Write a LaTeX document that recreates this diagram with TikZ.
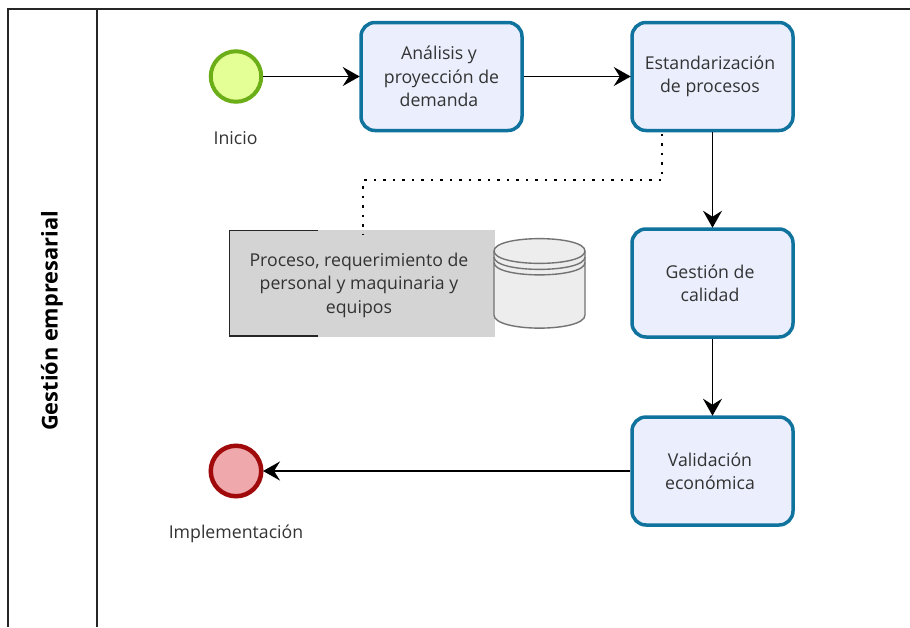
\documentclass[tikz,border=0pt]{standalone}
\usepackage{fontspec}
\setmainfont{Open Sans}
\usetikzlibrary{arrows.meta}
\definecolor{taskline}{HTML}{10739E}
\definecolor{taskfill}{HTML}{EAEEFD}
\definecolor{txt}{HTML}{333333}
\newcommand{\boxline}[1]{#1\hspace*{5pt}}
\tikzset{
  x=1pt,y=-1pt,
  task/.style={draw=taskline,fill=taskfill,line width=3.5pt,rounded corners=14pt,minimum width=161pt,minimum height=108pt,inner sep=0pt,align=center,text=txt,font=\fontsize{17.7}{23.2}\selectfont},
  evlabel/.style={text=txt,font=\fontsize{17.7}{23.2}\selectfont,inner sep=0pt},
  flow/.style={line width=1.9pt,-{Stealth[length=17pt,width=19pt,inset=6pt]},shorten >=-0.5pt},
  assoc/.style={line width=1.8pt,dash pattern=on 2.5pt off 7pt},
  storeline/.style={line width=1.4pt,draw=black!55}
}
\begin{document}
\begin{tikzpicture}
\useasboundingbox (0,0) rectangle (910,627);
\fill[white] (0,0) rectangle (910,627);
% lane
\draw[line width=2pt,color=black!85] (910,8.5) -- (7.5,8.5) -- (7.5,627);
\draw[line width=2pt,color=black!85] (97,8.5) -- (97,627);
\node[rotate=90,font=\fontsize{21.8}{26}\selectfont\bfseries,inner sep=0pt] (lane) at (52,321) {Gestión empresarial};
% annotation
\fill[black!17] (229,230) rectangle (495,336.5);
\node[inner sep=0pt,minimum width=266pt,minimum height=106pt,align=center,text=txt,font=\fontsize{17.7}{23.2}\selectfont] (note) at (359,285.3) {Proceso, requerimiento de\\personal y maquinaria y\\equipos};
\draw[line width=1.8pt,black!85] (318,230.5) -- (229.5,230.5) -- (229.5,336) -- (318,336);
% data store
\draw[storeline,fill=black!7] (494,251) .. controls (494,234.5) and (585,234.5) .. (585,251) -- (585,315) .. controls (585,332.5) and (494,332.5) .. (494,315) -- cycle;
\draw[storeline] (494,251) .. controls (494,267.5) and (585,267.5) .. (585,251);
\draw[storeline] (494,257) .. controls (494,273.5) and (585,273.5) .. (585,257);
\draw[storeline] (494,262.5) .. controls (494,279) and (585,279) .. (585,262.5);
% events
\node[circle,draw={rgb,255:red,108;green,174;blue,24},fill={rgb,255:red,228;green,255;blue,150},line width=4pt,inner sep=0pt,minimum size=50.5pt] (start) at (236,76.5) {};
\node[circle,draw={rgb,255:red,160;green,10;blue,10},fill={rgb,255:red,239;green,169;blue,173},line width=4.5pt,inner sep=0pt,minimum size=50.5pt] (end) at (236,471) {};
\node[evlabel] (startlabel) at (235.5,138) {Inicio};
\node[evlabel] (endlabel) at (236,534) {Implementación};
% tasks
\node[task] (analisis) at (441.5,76.5) {\boxline{Análisis y}\\\boxline{proyección de}\\\boxline{demanda}};
\node[task] (estandar) at (712.5,76.5) {\boxline{Estandarización}\\\boxline{de procesos}};
\node[task] (calidad) at (712.5,283) {\boxline{Gestión de}\\\boxline{calidad}};
\node[task] (validacion) at (712.5,471) {\boxline{Validación}\\\boxline{económica}};
% flows
\draw[flow] (start) -- (analisis);
\draw[flow] (analisis) -- (estandar);
\draw[flow] (estandar) -- (calidad);
\draw[flow] (calidad) -- (validacion);
\draw[flow] (validacion) -- (end);
% association
\coordinate (assocA) at ([xshift=-50.5pt,yshift=-1.5pt]estandar.south);
\coordinate (assocB) at ([xshift=4pt,yshift=-2pt]note.north);
\draw[assoc] (assocA) -- ++(0,46.5) -| (assocB);
\end{tikzpicture}
\end{document}
